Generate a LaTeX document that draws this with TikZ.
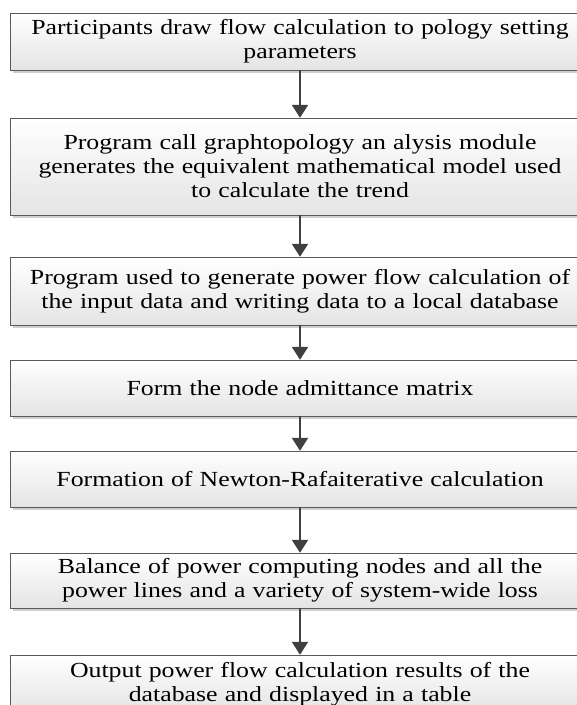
\documentclass[tikz,border=0pt]{standalone}
\usepackage{fontspec}
\setmainfont{Liberation Serif}[FakeStretch=1.2]
\usetikzlibrary{arrows.meta}
\definecolor{arrcol}{HTML}{404040}
\definecolor{framecol}{HTML}{5A5A5A}
\definecolor{shadowcol}{HTML}{CFCFCF}
\definecolor{bottomfill}{HTML}{E4E4E4}
\tikzset{
  txt/.style={text width=565pt, align=center, inner xsep=0pt, inner ysep=0pt,
    font=\fontsize{21.5}{24}\selectfont},
  arr/.style={draw=arrcol, line width=2.2pt, -{Triangle[length=13pt,width=16pt]}},
  frame/.style={top color=white, bottom color=bottomfill, draw=framecol, line width=0.8pt},
  shadowbox/.style={fill=shadowcol}
}
\newcommand{\flowbox}[4]{%
  \fill[shadowbox] (13,#2+3) rectangle (600,#3+3);
  \shade[frame] (10,#2) rectangle (597,#3);
  \node[txt, minimum height={(#3)-(#2)}] (#1) at (300,{((#2)+(#3))/2}) {#4};
}
\begin{document}
\begin{tikzpicture}[x=1pt,y=-1pt]
\useasboundingbox (0,0) rectangle (577,705);
\flowbox{b1}{13}{70}{Participants draw flow calculation to pology setting\\parameters}
\flowbox{b2}{118}{215}{Program call graphtopology an alysis module\\generates the equivalent mathematical model used\\to calculate the trend}
\flowbox{b3}{257}{325}{Program used to generate power flow calculation of\\the input data and writing data to a local database}
\flowbox{b4}{360}{416}{Form the node admittance matrix}
\flowbox{b5}{451}{507}{Formation of Newton-Rafaiterative calculation}
\flowbox{b6}{553}{608}{Balance of power computing nodes and all the\\power lines and a variety of system-wide loss}
\flowbox{b7}{655}{713}{Output power flow calculation results of the\\database and displayed in a table}
\draw[arr] (b1.south) -- (b2.north);
\draw[arr] (b2.south) -- (b3.north);
\draw[arr] (b3.south) -- (b4.north);
\draw[arr] (b4.south) -- (b5.north);
\draw[arr] (b5.south) -- (b6.north);
\draw[arr] (b6.south) -- (b7.north);
\end{tikzpicture}
\end{document}
